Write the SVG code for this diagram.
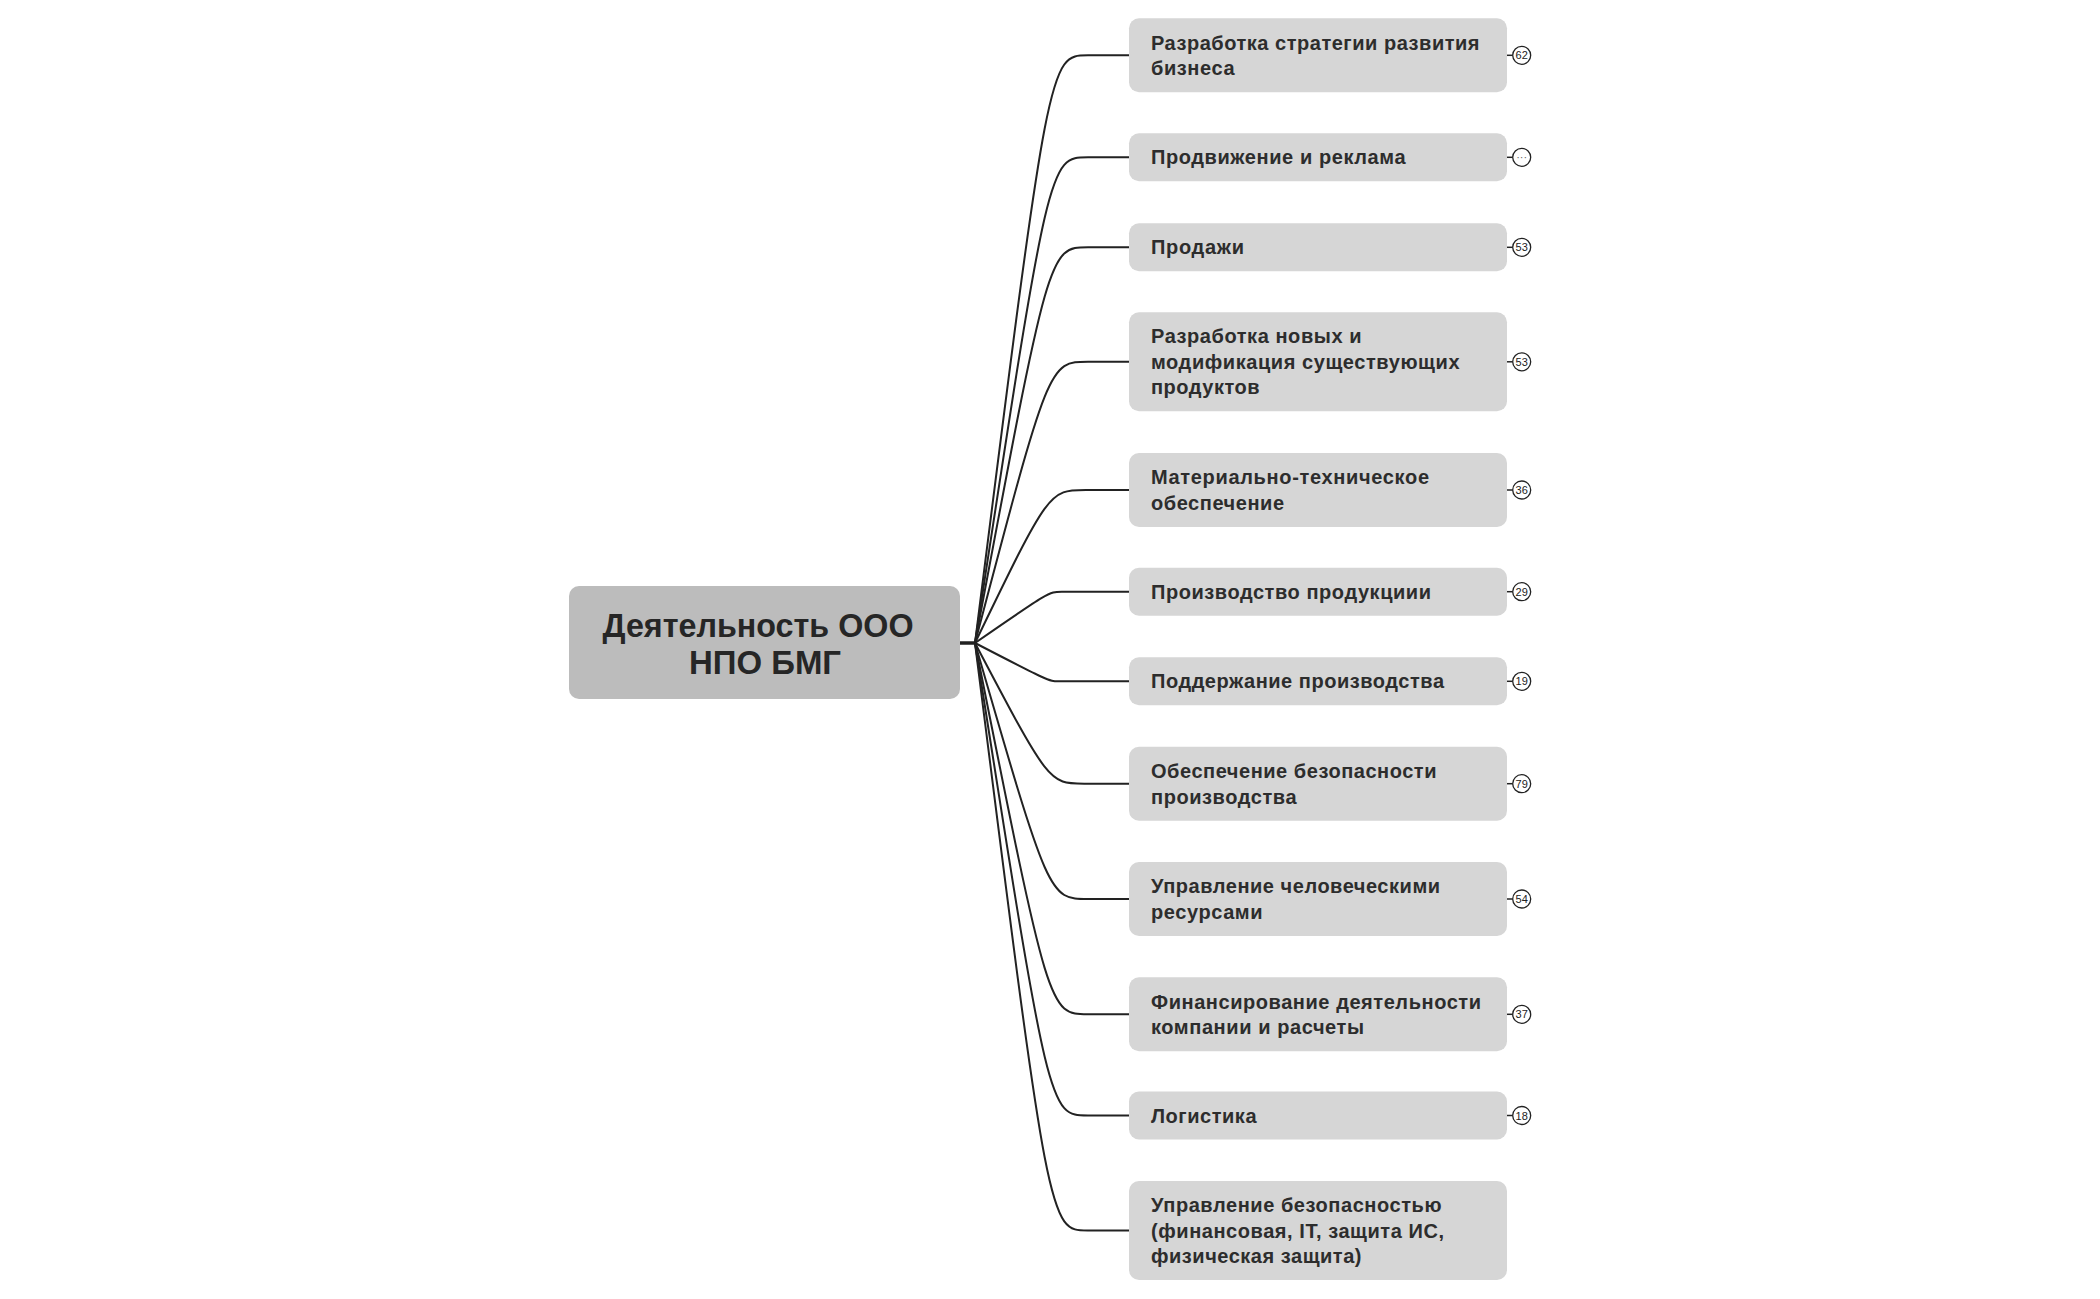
<svg xmlns="http://www.w3.org/2000/svg" width="2100" height="1299" viewBox="0 0 2100 1299">
<style>
.bg{fill:#ffffff}
.root rect{fill:#bcbcbc}
.root text{font-family:"Liberation Sans",Arial,sans-serif;font-weight:bold;font-size:34px;fill:#262626;text-anchor:middle}
.topic rect{fill:#d6d6d6}
.topic text{font-family:"Liberation Sans",Arial,sans-serif;font-weight:bold;font-size:20px;fill:#2d2d2d}
.badge circle{fill:#ffffff;stroke:#222222;stroke-width:1.3}
.badge line{stroke:#222222;stroke-width:1.5}
.badge text{font-family:"Liberation Sans",Arial,sans-serif;font-size:11px;fill:#222222;text-anchor:middle}
#connectors path{fill:none;stroke:#222222;stroke-width:2}
</style>
<rect class="bg" x="0" y="0" width="2100" height="1299"/>
<g id="connectors">
<path d="M960 643 H975" style="stroke-width:3.5"/>
<path d="M975 643 C1049 55.3 1049 55.3 1088 55.3 H1129"/>
<path d="M975 643 C1049 157.3 1049 157.3 1088 157.3 H1129"/>
<path d="M975 643 C1049 247.3 1049 247.3 1088 247.3 H1129"/>
<path d="M975 643 C1049 361.8 1049 361.8 1088 361.8 H1129"/>
<path d="M975 643 C1049 490 1049 490 1085.8 490 H1129"/>
<path d="M975 643 C1049 591.7 1049 591.7 1061.8 591.7 H1129"/>
<path d="M975 643 C1049 681.3 1049 681.3 1058.6 681.3 H1129"/>
<path d="M975 643 C1049 783.7 1049 783.7 1084.2 783.7 H1129"/>
<path d="M975 643 C1049 899 1049 899 1088 899 H1129"/>
<path d="M975 643 C1049 1014.3 1049 1014.3 1088 1014.3 H1129"/>
<path d="M975 643 C1049 1115.5 1049 1115.5 1088 1115.5 H1129"/>
<path d="M975 643 C1049 1230.5 1049 1230.5 1088 1230.5 H1129"/>
</g>
<g id="root" class="root">
<rect x="569" y="586" width="391" height="113" rx="10"/>
<text x="758" y="636.5" textLength="311" lengthAdjust="spacingAndGlyphs">Деятельность ООО</text>
<text x="765" y="674" textLength="152" lengthAdjust="spacingAndGlyphs">НПО БМГ</text>
</g>
<g id="t1" class="topic">
<rect x="1129" y="18.3" width="378" height="74" rx="10"/>
<text x="1151" y="49.5" textLength="328.5">Разработка стратегии развития</text>
<text x="1151" y="75" textLength="83.5">бизнеса</text>
</g>
<g id="t2" class="topic">
<rect x="1129" y="133.3" width="378" height="48" rx="10"/>
<text x="1151" y="164.3" textLength="254.5">Продвижение и реклама</text>
</g>
<g id="t3" class="topic">
<rect x="1129" y="223.3" width="378" height="48" rx="10"/>
<text x="1151" y="254.3" textLength="93">Продажи</text>
</g>
<g id="t4" class="topic">
<rect x="1129" y="312.3" width="378" height="99" rx="10"/>
<text x="1151" y="343.3" textLength="210.5">Разработка новых и</text>
<text x="1151" y="368.8" textLength="308.5">модификация существующих</text>
<text x="1151" y="394.3" textLength="108.5">продуктов</text>
</g>
<g id="t5" class="topic">
<rect x="1129" y="453" width="378" height="74" rx="10"/>
<text x="1151" y="484.3" textLength="278">Материально-техническое</text>
<text x="1151" y="509.8" textLength="133">обеспечение</text>
</g>
<g id="t6" class="topic">
<rect x="1129" y="567.7" width="378" height="48" rx="10"/>
<text x="1151" y="598.7" textLength="280">Производство продукциии</text>
</g>
<g id="t7" class="topic">
<rect x="1129" y="657.3" width="378" height="48" rx="10"/>
<text x="1151" y="688.3" textLength="293">Поддержание производства</text>
</g>
<g id="t8" class="topic">
<rect x="1129" y="746.7" width="378" height="74" rx="10"/>
<text x="1151" y="778" textLength="285.5">Обеспечение безопасности</text>
<text x="1151" y="803.5" textLength="145.5">производства</text>
</g>
<g id="t9" class="topic">
<rect x="1129" y="862" width="378" height="74" rx="10"/>
<text x="1151" y="893.3" textLength="289">Управление человеческими</text>
<text x="1151" y="918.8" textLength="111.5">ресурсами</text>
</g>
<g id="t10" class="topic">
<rect x="1129" y="977.3" width="378" height="74" rx="10"/>
<text x="1151" y="1008.5" textLength="330">Финансирование деятельности</text>
<text x="1151" y="1034" textLength="213">компании и расчеты</text>
</g>
<g id="t11" class="topic">
<rect x="1129" y="1091.5" width="378" height="48" rx="10"/>
<text x="1151" y="1122.5" textLength="105.5">Логистика</text>
</g>
<g id="t12" class="topic">
<rect x="1129" y="1181" width="378" height="99" rx="10"/>
<text x="1151" y="1212" textLength="290.5">Управление безопасностью</text>
<text x="1151" y="1237.5" textLength="293">(финансовая, IT, защита ИС,</text>
<text x="1151" y="1263" textLength="210.5">физическая защита)</text>
</g>
<g id="badges">
<g class="badge"><line x1="1507" y1="55.3" x2="1512.7" y2="55.3"/><circle cx="1521.7" cy="55.3" r="9"/><text x="1521.7" y="59.3">62</text></g>
<g class="badge"><line x1="1507" y1="157.3" x2="1512.7" y2="157.3"/><circle cx="1521.7" cy="157.3" r="9"/><text x="1521.7" y="160.8" style="fill:#666666">···</text></g>
<g class="badge"><line x1="1507" y1="247.3" x2="1512.7" y2="247.3"/><circle cx="1521.7" cy="247.3" r="9"/><text x="1521.7" y="251.3">53</text></g>
<g class="badge"><line x1="1507" y1="361.8" x2="1512.7" y2="361.8"/><circle cx="1521.7" cy="361.8" r="9"/><text x="1521.7" y="365.8">53</text></g>
<g class="badge"><line x1="1507" y1="490" x2="1512.7" y2="490"/><circle cx="1521.7" cy="490" r="9"/><text x="1521.7" y="494">36</text></g>
<g class="badge"><line x1="1507" y1="591.7" x2="1512.7" y2="591.7"/><circle cx="1521.7" cy="591.7" r="9"/><text x="1521.7" y="595.7">29</text></g>
<g class="badge"><line x1="1507" y1="681.3" x2="1512.7" y2="681.3"/><circle cx="1521.7" cy="681.3" r="9"/><text x="1521.7" y="685.3">19</text></g>
<g class="badge"><line x1="1507" y1="783.7" x2="1512.7" y2="783.7"/><circle cx="1521.7" cy="783.7" r="9"/><text x="1521.7" y="787.7">79</text></g>
<g class="badge"><line x1="1507" y1="899" x2="1512.7" y2="899"/><circle cx="1521.7" cy="899" r="9"/><text x="1521.7" y="903">54</text></g>
<g class="badge"><line x1="1507" y1="1014.3" x2="1512.7" y2="1014.3"/><circle cx="1521.7" cy="1014.3" r="9"/><text x="1521.7" y="1018.3">37</text></g>
<g class="badge"><line x1="1507" y1="1115.5" x2="1512.7" y2="1115.5"/><circle cx="1521.7" cy="1115.5" r="9"/><text x="1521.7" y="1119.5">18</text></g>
</g>
</svg>
